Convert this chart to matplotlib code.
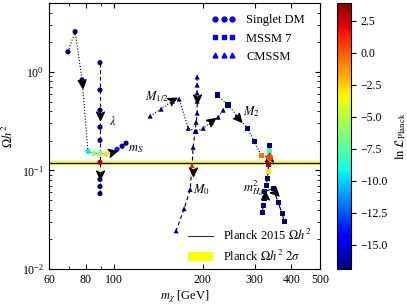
import numpy as np
import matplotlib
matplotlib.use("Agg")
import matplotlib.pyplot as plt
from matplotlib.lines import Line2D
from matplotlib.patches import Patch
from matplotlib.markers import MarkerStyle
from matplotlib.path import Path
from matplotlib.transforms import Affine2D
from matplotlib.colors import Normalize

plt.rcParams['font.family'] = ['Liberation Serif', 'DejaVu Serif']
plt.rcParams['mathtext.fontset'] = 'stix'
plt.rcParams['font.size'] = 8.5

# ---- data (m_chi [GeV], Omega h^2, ln L_Planck) ----
# Singlet DM: scan in m_S
singlet_ms_x = [69.6, 73.6, 77.7, 81.4, 85.3, 89.4, 93.8, 98.3, 102.2, 106.3, 109.6]
singlet_ms_y = [1.60, 2.56, 0.83, 0.156, 0.149, 0.149, 0.146, 0.153, 0.164, 0.176, 0.189]
singlet_ms_lnl = [-17, -17, -17, -9.5, -6, -6, -3, -6, -13.5, -17, -17]
# Singlet DM: scan in lambda
singlet_lam_x = [89.4] * 11
singlet_lam_y = [1.24, 0.655, 0.409, 0.275, 0.202, 0.149, 0.121, 0.0954, 0.0810, 0.0687, 0.0582]
singlet_lam_lnl = [-17, -17, -17, -17, -17, -6, 3, -4.5, -17, -17, -17]

# CMSSM: scan in M_1/2
cmssm_m12_x = [132.4, 144.2, 157.2, 166.1, 178.3, 189.7, 200.5, 213.4, 225.4, 234.4]
cmssm_m12_y = [0.356, 0.419, 0.506, 0.530, 0.268, 0.250, 0.268, 0.309, 0.347, 0.409]
cmssm_m12_lnl = [-17] * 10
# CMSSM: scan in M_0
cmssm_m0_x = [191.2, 191.2, 191.2, 191.2, 191.2, 189.7, 188.3, 185.3, 183.8, 181.0, 172.7, 162.2]
cmssm_m0_y = [0.889, 0.736, 0.611, 0.506, 0.382, 0.309, 0.250, 0.172, 0.112, 0.0640, 0.0409, 0.0244]
cmssm_m0_lnl = [-17, -17, -17, -17, -17, -17, -17, -17, 1.5, -17, -17, -17]

# MSSM 7: scan in M_2
mssm_m2_x = [223.7, 243.7, 263.6, 283.0, 298.9, 315.7]
mssm_m2_y = [0.582, 0.460, 0.347, 0.268, 0.198, 0.142]
mssm_m2_lnl = [-17, -17, -17, -17, -17, -0.5]
# MSSM 7: vertical scan
mssm_v_x = [336.1, 336.1, 333.5, 333.5, 330.9, 328.3]
mssm_v_y = [0.180, 0.156, 0.115, 0.0977, 0.0828, 0.0703]
mssm_v_lnl = [-17, -8, 3, -3, -17, -17]
# MSSM 7: scan in m_Hd^2
mssm_mhd_x = [318.2, 320.7, 323.2, 323.2, 346.8, 360.7, 372.1, 378.0]
mssm_mhd_y = [0.0373, 0.0440, 0.0518, 0.0611, 0.0655, 0.0471, 0.0364, 0.0302]
mssm_mhd_lnl = [-17] * 8
# MSSM 7 benchmark
mssm_best_x = [336.1]
mssm_best_y = [0.136]
mssm_best_lnl = [0.5]

# arrows: x, y, direction (deg)
arrow_x = [77.7, 89.4, 89.4, 98.3, 157.2, 213.4, 191.2, 184.5, 263.6, 336.1, 325.7, 352.3]
arrow_y = [0.773, 0.364, 0.091, 0.155, 0.518, 0.316, 0.543, 0.098, 0.340, 0.134, 0.0556, 0.0611]
arrow_dir = [-84, -90, -90, 15, 29, 36, -90, -90, -48, 90, 90, -45]

planck_oh2 = 0.1188
planck_band = (0.1128, 0.1248)

lnl_min, lnl_max = -16.9, 3.9
xticks = [60, 80, 100, 200, 300, 400, 500]
cbar_ticks = [2.5, 0.0, -2.5, -5.0, -7.5, -10.0, -12.5, -15.0]

fig = plt.figure(figsize=(4.07, 3.05), dpi=100)
ax = fig.add_axes([49 / 407, 36 / 305, 271 / 407, 266 / 305])
norm = Normalize(vmin=lnl_min, vmax=lnl_max)
cmap = plt.get_cmap('jet')

ax.axhspan(planck_band[0], planck_band[1], color='yellow', zorder=1, lw=0)
ax.axhline(planck_oh2, color='k', lw=0.9, zorder=1.5)

def series(x, y, c, marker, ls, s):
    ax.plot(x, y, color='k', lw=0.8, zorder=2, **ls)
    ax.scatter(x, y, c=c, cmap=cmap, norm=norm, marker=marker, s=s,
               linewidths=0, zorder=3)

dotted = dict(ls=':')
dashed = dict(ls='--', dashes=(3.5, 2.5))
dashdot = dict(ls='-.')

series(singlet_ms_x, singlet_ms_y, singlet_ms_lnl, 'o', dotted, 14)
series(singlet_lam_x, singlet_lam_y, singlet_lam_lnl, 'o', dashed, 14)
series(cmssm_m12_x, cmssm_m12_y, cmssm_m12_lnl, '^', dotted, 14)
series(cmssm_m0_x, cmssm_m0_y, cmssm_m0_lnl, '^', dashed, 14)
series(mssm_m2_x + mssm_best_x, mssm_m2_y + mssm_best_y, mssm_m2_lnl + mssm_best_lnl, 's', dotted, 15)
series(mssm_v_x, mssm_v_y, mssm_v_lnl, 's', dashed, 15)
series(mssm_mhd_x, mssm_mhd_y, mssm_mhd_lnl, 's', dashdot, 15)

# arrow heads
head = Path([(1, 0), (-0.7, 0.8), (-0.25, 0), (-0.7, -0.8), (1, 0)],
            [Path.MOVETO, Path.LINETO, Path.LINETO, Path.LINETO, Path.CLOSEPOLY])
for xa, ya, da in zip(arrow_x, arrow_y, arrow_dir):
    m = MarkerStyle(head, transform=Affine2D().rotate_deg(da))
    ax.plot([xa], [ya], marker=m, ms=7, color='k', ls='', zorder=4)

ax.scatter(mssm_best_x, mssm_best_y, c=mssm_best_lnl, cmap=cmap, norm=norm,
           marker='o', s=28, linewidths=0, zorder=5)

# parameter labels
ax.text(96, 0.316, r'$\lambda$', fontsize=9, va='center')
ax.text(111.4, 0.164, r'$m_S$', fontsize=9, va='center')
ax.text(127, 0.556, r'$M_{1/2}$', fontsize=9, va='center')
ax.text(185.3, 0.064, r'$M_0$', fontsize=9, va='center')
ax.text(274, 0.391, r'$M_2$', fontsize=9, va='center')
ax.text(274, 0.066, r'$m^2_{H_d}$', fontsize=9, va='center')

ax.set_xscale('log')
ax.set_yscale('log')
ax.set_xlim(60, 500)
ax.set_ylim(0.01, 5)
ax.set_xticks(xticks)
ax.set_xticklabels([str(t) for t in xticks])
ax.tick_params(which='both', direction='in', top=True, right=True)
ax.set_xlabel(r'$m_\chi$ [GeV]', fontsize=9, labelpad=2)
ax.set_ylabel(r'$\Omega h^2$', fontsize=9, labelpad=4)

h1 = [Line2D([], [], ls='', marker='o', color='blue', ms=3.5),
      Line2D([], [], ls='', marker='s', color='blue', ms=3.5),
      Line2D([], [], ls='', marker='^', color='blue', ms=3.5)]
leg1 = ax.legend(h1, ['Singlet DM', 'MSSM 7', 'CMSSM'], numpoints=3, loc='upper right',
                 bbox_to_anchor=(0.985, 1.0), frameon=False, fontsize=9,
                 handlelength=2.0, labelspacing=0.5)
ax.add_artist(leg1)
h2 = [Line2D([], [], color='0.2', lw=0.8), Patch(color='yellow', lw=0)]
ax.legend(h2, [r'Planck 2015 $\Omega h^2$', r'Planck $\Omega h^2$ $2\sigma$'],
          loc='lower right', bbox_to_anchor=(1.0, -0.015), frameon=False, fontsize=9,
          handlelength=2.0, borderaxespad=0.3)

cax = fig.add_axes([337 / 407, 36 / 305, 14 / 407, 266 / 305])
sm = plt.cm.ScalarMappable(norm=norm, cmap=cmap)
cb = fig.colorbar(sm, cax=cax, ticks=cbar_ticks)
cb.set_label(r'$\ln\,\mathcal{L}_{\rm Planck}$', fontsize=9)
cb.ax.tick_params(labelsize=8.5)

fig.savefig('out.png', dpi=100)
